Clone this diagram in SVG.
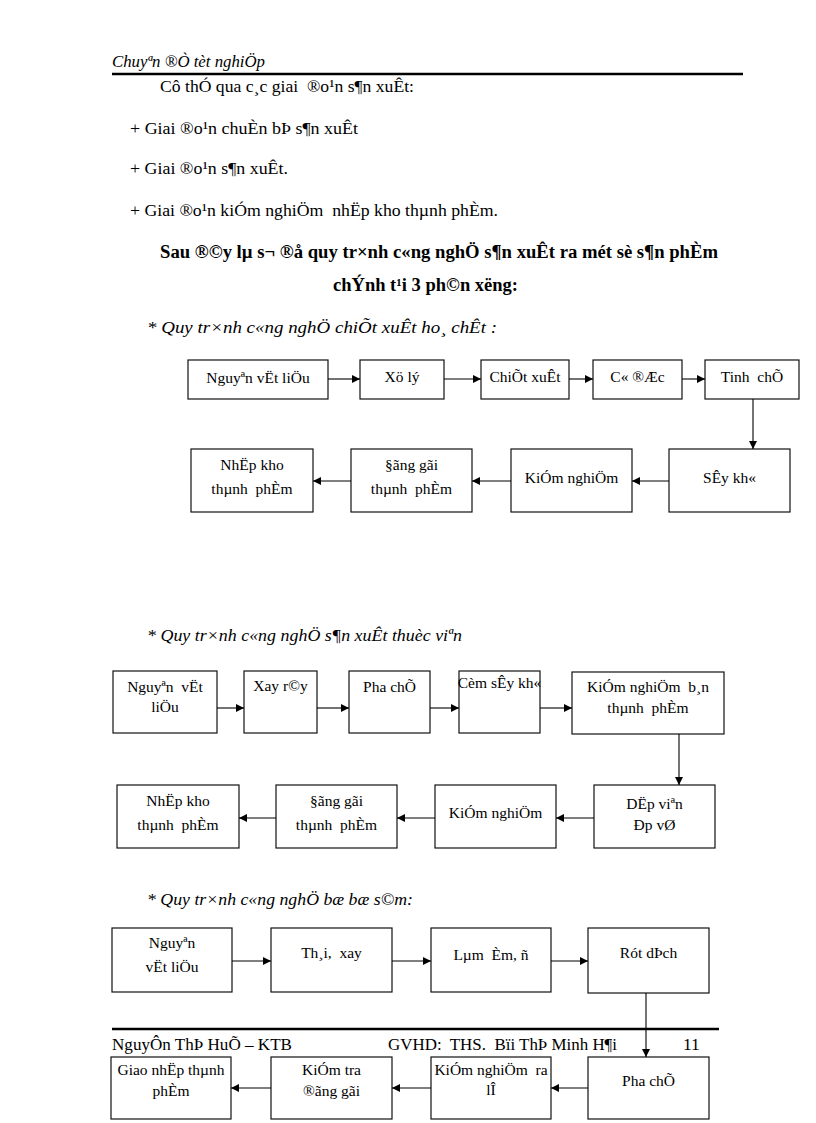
<svg xmlns="http://www.w3.org/2000/svg" width="816" height="1123" viewBox="0 0 816 1123">
<style>
text{font-family:"Liberation Serif","Times New Roman",serif;fill:#000;white-space:pre}
.b{font-size:15.5px;text-anchor:middle}
.body{font-size:17.5px}
.bold{font-size:18px;font-weight:bold;text-anchor:middle}
.it{font-size:17px;font-style:italic}
.box{fill:#fff;stroke:#111;stroke-width:1.2}
.c{stroke:#000;stroke-width:1.1;fill:none;marker-end:url(#ah)}
.rule{stroke:#000;stroke-width:2.5}
</style>
<defs>
<marker id="ah" markerUnits="userSpaceOnUse" markerWidth="9" markerHeight="8" refX="8" refY="4" orient="auto">
<path d="M0,0 L8,4 L0,8 z" fill="#000"/>
</marker>
</defs>
<rect width="816" height="1123" fill="#fff"/>

<g id="page-header">
<text x="112" y="67" style="font-size:16px;font-style:italic" textLength="153" lengthAdjust="spacingAndGlyphs">Chuyªn ®Ò tèt nghiÖp</text>
<line class="rule" x1="112" y1="74" x2="743" y2="74"/>
</g>

<g id="intro">
<text class="body" x="160" y="92" textLength="254" lengthAdjust="spacingAndGlyphs">Cô thÓ qua c¸c giai  ®o¹n s¶n xuÊt:</text>
<text class="body" x="130" y="134" textLength="228" lengthAdjust="spacingAndGlyphs">+ Giai ®o¹n chuÈn bÞ s¶n xuÊt</text>
<text class="body" x="130" y="174" textLength="158" lengthAdjust="spacingAndGlyphs">+ Giai ®o¹n s¶n xuÊt.</text>
<text class="body" x="130" y="216" textLength="368" lengthAdjust="spacingAndGlyphs">+ Giai ®o¹n kiÓm nghiÖm  nhËp kho thµnh phÈm.</text>
<text class="bold" x="439" y="258" textLength="558" lengthAdjust="spacingAndGlyphs">Sau ®©y lµ s¬ ®å quy tr×nh c«ng nghÖ s¶n xuÊt ra mét sè s¶n phÈm</text>
<text class="bold" x="425.5" y="291" textLength="185" lengthAdjust="spacingAndGlyphs">chÝnh t¹i 3 ph©n xëng:</text>
</g>

<g id="section-1-title"><text class="it" x="147" y="333" textLength="350" lengthAdjust="spacingAndGlyphs">* Quy tr×nh c«ng nghÖ chiÕt xuÊt ho¸ chÊt :</text></g>

<g id="d1-n1"><rect class="box" x="188" y="360" width="140" height="39"/><text class="b" x="258" y="383">Nguyªn vËt liÖu</text></g>
<g id="d1-n2"><rect class="box" x="360" y="360" width="84" height="39"/><text class="b" x="402" y="382">Xö lý</text></g>
<g id="d1-n3"><rect class="box" x="481" y="360" width="88" height="39"/><text class="b" x="525" y="382">ChiÕt xuÊt</text></g>
<g id="d1-n4"><rect class="box" x="593" y="360" width="89" height="39"/><text class="b" x="637.5" y="382">C« ®Æc</text></g>
<g id="d1-n5"><rect class="box" x="705" y="360" width="94" height="39"/><text class="b" x="752" y="382">Tinh  chÕ</text></g>
<g id="d1-n6"><rect class="box" x="669" y="449" width="121" height="63"/><text class="b" x="729.5" y="483">SÊy kh«</text></g>
<g id="d1-n7"><rect class="box" x="511" y="449" width="121" height="63"/><text class="b" x="571.5" y="483">KiÓm nghiÖm</text></g>
<g id="d1-n8"><rect class="box" x="351" y="449" width="121" height="63"/><text class="b" x="411.5" y="470">§ãng gãi</text><text class="b" x="411.5" y="494">thµnh  phÈm</text></g>
<g id="d1-n9"><rect class="box" x="191" y="449" width="122" height="63"/><text class="b" x="252" y="470">NhËp kho</text><text class="b" x="252" y="494">thµnh  phÈm</text></g>

<g id="section-2-title"><text class="it" x="147" y="641" textLength="315" lengthAdjust="spacingAndGlyphs">* Quy tr×nh c«ng nghÖ s¶n xuÊt thuèc viªn</text></g>

<g id="d2-n1"><rect class="box" x="113" y="671" width="104" height="62"/><text class="b" x="165" y="692">Nguyªn  vËt</text><text class="b" x="165" y="712">liÖu</text></g>
<g id="d2-n2"><rect class="box" x="244" y="671" width="73" height="62"/><text class="b" x="280.5" y="691">Xay r©y</text></g>
<g id="d2-n3"><rect class="box" x="349" y="671" width="81" height="62"/><text class="b" x="389.5" y="692">Pha chÕ</text></g>
<g id="d2-n4"><rect class="box" x="459" y="671" width="81" height="62"/><text class="b" x="499.5" y="688">Cèm sÊy kh«</text></g>
<g id="d2-n5"><rect class="box" x="572" y="672" width="152" height="62"/><text class="b" x="648" y="692">KiÓm nghiÖm  b¸n</text><text class="b" x="648" y="713">thµnh  phÈm</text></g>
<g id="d2-n6"><rect class="box" x="594" y="785" width="121" height="63"/><text class="b" x="654.5" y="809">DËp viªn</text><text class="b" x="654.5" y="830">Ðp vØ</text></g>
<g id="d2-n7"><rect class="box" x="435" y="785" width="121" height="63"/><text class="b" x="495.5" y="818">KiÓm nghiÖm</text></g>
<g id="d2-n8"><rect class="box" x="276" y="785" width="121" height="63"/><text class="b" x="336.5" y="806">§ãng gãi</text><text class="b" x="336.5" y="830">thµnh  phÈm</text></g>
<g id="d2-n9"><rect class="box" x="117" y="785" width="122" height="63"/><text class="b" x="178" y="806">NhËp kho</text><text class="b" x="178" y="830">thµnh  phÈm</text></g>

<g id="section-3-title"><text class="it" x="147" y="905" textLength="266" lengthAdjust="spacingAndGlyphs">* Quy tr×nh c«ng nghÖ bæ bæ s©m:</text></g>

<g id="d3-n1"><rect class="box" x="112" y="928" width="120" height="64"/><text class="b" x="172" y="948">Nguyªn</text><text class="b" x="172" y="972">vËt liÖu</text></g>
<g id="d3-n2"><rect class="box" x="271" y="928" width="121" height="64"/><text class="b" x="331.5" y="958">Th¸i,  xay</text></g>
<g id="d3-n3"><rect class="box" x="431" y="928" width="120" height="64"/><text class="b" x="491" y="960">Lµm  Èm, ñ</text></g>
<g id="d3-n4"><rect class="box" x="588" y="928" width="121" height="65"/><text class="b" x="648.5" y="958">Rót dÞch</text></g>
<g id="d3-n5"><rect class="box" x="588" y="1057" width="121" height="62"/><text class="b" x="648.5" y="1086">Pha chÕ</text></g>
<g id="d3-n6"><rect class="box" x="431" y="1057" width="120" height="62"/><text class="b" x="491" y="1075">KiÓm nghiÖm  ra</text><text class="b" x="491" y="1095">lÎ</text></g>
<g id="d3-n7"><rect class="box" x="271" y="1057" width="121" height="62"/><text class="b" x="331.5" y="1075">KiÓm tra</text><text class="b" x="331.5" y="1096">®ãng gãi</text></g>
<g id="d3-n8"><rect class="box" x="111" y="1057" width="120" height="62"/><text class="b" x="171" y="1075">Giao nhËp thµnh</text><text class="b" x="171" y="1096">phÈm</text></g>

<g id="page-footer">
<line class="rule" x1="112" y1="1029" x2="719" y2="1029"/>
<text class="body" x="112" y="1050" textLength="180" lengthAdjust="spacingAndGlyphs">NguyÔn ThÞ HuÕ – KTB</text>
<text class="body" x="388" y="1050" textLength="229" lengthAdjust="spacingAndGlyphs">GVHD:  THS.  Bïi ThÞ Minh H¶i</text>
<text class="body" x="683" y="1050">11</text>
</g>

<g id="connectors">
<line class="c" x1="328" y1="379" x2="360" y2="379"/>
<line class="c" x1="444" y1="379" x2="481" y2="379"/>
<line class="c" x1="569" y1="379" x2="593" y2="379"/>
<line class="c" x1="682" y1="379" x2="705" y2="379"/>
<line class="c" x1="753" y1="399" x2="753" y2="449"/>
<line class="c" x1="669" y1="481" x2="632" y2="481"/>
<line class="c" x1="511" y1="481" x2="472" y2="481"/>
<line class="c" x1="351" y1="481" x2="313" y2="481"/>

<line class="c" x1="217" y1="708" x2="244" y2="708"/>
<line class="c" x1="317" y1="708" x2="349" y2="708"/>
<line class="c" x1="430" y1="708" x2="459" y2="708"/>
<line class="c" x1="540" y1="708" x2="572" y2="708"/>
<line class="c" x1="679" y1="734" x2="679" y2="785"/>
<line class="c" x1="594" y1="818" x2="556" y2="818"/>
<line class="c" x1="435" y1="818" x2="397" y2="818"/>
<line class="c" x1="276" y1="818" x2="239" y2="818"/>

<line class="c" x1="232" y1="961" x2="271" y2="961"/>
<line class="c" x1="392" y1="961" x2="431" y2="961"/>
<line class="c" x1="551" y1="961" x2="588" y2="961"/>
<line class="c" x1="646" y1="993" x2="646" y2="1057"/>
<line class="c" x1="588" y1="1088" x2="551" y2="1088"/>
<line class="c" x1="431" y1="1088" x2="392" y2="1088"/>
<line class="c" x1="271" y1="1088" x2="231" y2="1088"/>
</g>
</svg>
